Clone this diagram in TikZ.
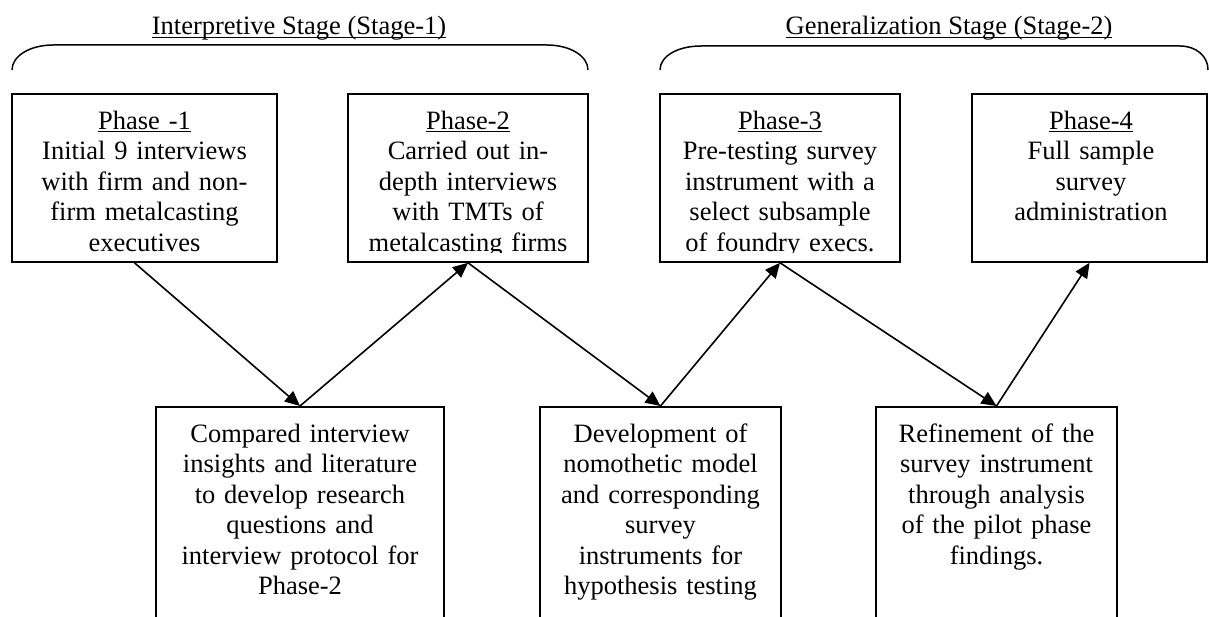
\documentclass[tikz,border=0pt]{standalone}
\usepackage{fontspec}
\setmainfont{Liberation Serif}
\usetikzlibrary{arrows.meta}
% underline drawn just under the baseline
\newcommand\ulinetext[1]{\leavevmode\setbox0\hbox{#1}\rlap{\rule[-3.2pt]{\wd0}{1.2pt}}\box0}

\begin{document}
\begin{tikzpicture}[x=1pt,y=-1pt,
  every node/.style={font=\fontsize{26.5pt}{30.5pt}\selectfont},
  frame/.style={draw,line width=1.6pt,rectangle,inner sep=0pt},
  boxtext/.style={inner sep=0pt,align=center,anchor=north},
  link/.style={line width=1.6pt,-{Triangle[length=15pt,width=13.5pt]}},
  stagebrace/.style={line width=1.5pt}]
\useasboundingbox (0,0) rectangle (1209,617);
\clip (0,0) rectangle (1209,617);

% stage headings and their braces
\node[anchor=base] (t1) at (299,35) {\ulinetext{Interpretive Stage (Stage-1)}};
\node[anchor=base] (t2) at (949,35) {\ulinetext{Generalization Stage (Stage-2)}};
\draw[stagebrace] (12,70) .. controls (12,56) and (30,45) .. (53,45) -- (547,45)
  .. controls (570,45) and (588,56) .. (588,70);
\draw[stagebrace] (660,70) .. controls (660,56) and (678,46) .. (701,46) -- (1180,46)
  .. controls (1196,46) and (1208,56) .. (1208,70);

% phase boxes (top row)
\node[frame,minimum width=265pt,minimum height=168pt] (p1) at (144.5,178) {};
\node[frame,minimum width=240pt,minimum height=168pt] (p2) at (468,178) {};
\node[frame,minimum width=240pt,minimum height=168pt] (p3) at (780,178) {};
\node[frame,minimum width=235pt,minimum height=168pt] (p4) at (1089.5,178) {};

\begin{scope}
\clip (0,90) rectangle (1209,253);
\node[boxtext,text width=250pt] (p1t) at (144.5,107.6)
  {\strut\ulinetext{Phase -1}\\Initial 9 interviews\\with firm and non-\\firm metalcasting\\executives};
\node[boxtext,text width=225pt] (p2t) at (468,107.6)
  {\strut\ulinetext{Phase-2}\\Carried out in-\\depth interviews\\with TMTs of\\metalcasting firms};
\node[boxtext,text width=225pt] (p3t) at (780,107.6)
  {\strut\ulinetext{Phase-3}\\Pre-testing survey\\instrument with a\\select subsample\\of foundry execs.};
\node[boxtext,text width=225pt] (p4t) at (1091,107.6)
  {\strut\ulinetext{Phase-4}\\Full sample\\survey\\administration};
\end{scope}

% intermediate step boxes (bottom row, running past the lower edge)
\node[frame,anchor=north,minimum width=288pt,minimum height=240pt] (a) at (300,406) {};
\node[frame,anchor=north,minimum width=241pt,minimum height=240pt] (b) at (660.5,406) {};
\node[frame,anchor=north,minimum width=241pt,minimum height=240pt] (c) at (996.5,406) {};

\node[boxtext,text width=270pt] (at) at (300,420.6)
  {\strut Compared interview\\insights and literature\\to develop research\\questions and\\interview protocol for\\Phase-2};
\node[boxtext,text width=225pt] (bt) at (660.5,420.6)
  {\strut Development of\\nomothetic model\\and corresponding\\survey\\instruments for\\hypothesis testing};
\node[boxtext,text width=225pt] (ct) at (996.5,420.6)
  {\strut Refinement of the\\survey instrument\\through analysis\\of the pilot phase\\findings.};

% zig-zag flow between the rows
\draw[link] ([xshift=-10pt]p1.south) -- (a.north);
\draw[link] (a.north) -- (p2.south);
\draw[link] (p2.south) -- (b.north);
\draw[link] (b.north) -- (p3.south);
\draw[link] (p3.south) -- (c.north);
\draw[link] (c.north) -- (p4.south);
\end{tikzpicture}
\end{document}
